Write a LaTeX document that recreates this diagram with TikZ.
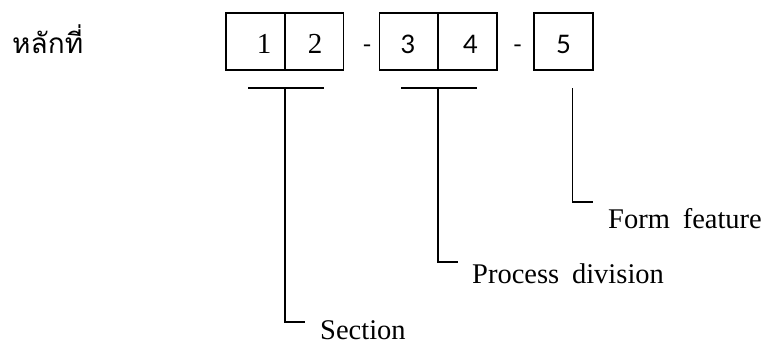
\documentclass[tikz,border=0pt]{standalone}
\usepackage{fontspec}
\setmainfont{Liberation Serif}
\newfontfamily\thaifont[Script=Thai]{Loma}
\newfontfamily\digitsans{Lato}
\begin{document}
\begin{tikzpicture}[x=1pt,y=1pt,
  cell/.style={draw, line width=1.5pt, minimum width=59pt, minimum height=57pt, inner sep=0pt},
  rule/.style={line width=1.5pt},
  lbl/.style={anchor=base west, inner sep=0pt, font=\fontsize{28.5}{32}\selectfont},
  dig/.style={inner sep=0pt, anchor=base},
  sep/.style={inner sep=0pt, anchor=base, font=\fontsize{24}{28}\selectfont},
]
\useasboundingbox (0,0) rectangle (768,-345);

% digit position caption
\node[anchor=base west, inner sep=0pt, font=\thaifont\fontsize{28}{31}\selectfont] (cap) at (12,-53) {หลักที่};

% code cells
\node[cell] (c1) at (255.5,-41.5) {};
\node[cell] (c2) at (314,-41.5) {};
\node[cell] (c3) at (409,-41.5) {};
\node[cell] (c4) at (467.5,-41.5) {};
\node[cell] (c5) at (563.5,-41.5) {};

% digits
\node[dig, font=\fontsize{29}{31}\selectfont] (d1) at (264,-53.5) {1};
\node[dig, font=\fontsize{29}{31}\selectfont] (d2) at (315,-53.5) {2};
\node[dig, font=\digitsans\fontsize{25.5}{28}\selectfont] (d3) at (408,-53) {3};
\node[dig, font=\digitsans\fontsize{25.5}{28}\selectfont] (d4) at (470.5,-53) {4};
\node[dig, font=\digitsans\fontsize{25.5}{28}\selectfont] (d5) at (563.5,-53) {5};

% separators
\node[sep] (h1) at (367,-52) {-};
\node[sep] (h2) at (517.5,-52) {-};

% group bars
\coordinate (b1l) at (248,-88);
\coordinate (b1r) at (324,-88);
\coordinate (b1) at (285,-88);
\coordinate (b2l) at (401,-88);
\coordinate (b2r) at (477,-88);
\coordinate (b2) at (438,-88);
\coordinate (b3) at (572.5,-88);
\draw[rule] (b1l) -- (b1r);
\draw[rule] (b2l) -- (b2r);

% labels
\node[lbl] (sec) at (320,-339.5) {Section};
\node[lbl] (proc) at (472,-283) {Process\hspace{0.45em}division};
\node[lbl] (form) at (608,-228) {Form\hspace{0.45em}feature};

% leader ends
\coordinate (e1) at (305,-322);
\coordinate (e2) at (458,-262);
\coordinate (e3) at (593,-202);

% leaders
\draw[rule] (b1) |- (e1);
\draw[rule] (b2) |- (e2);
\draw[rule] (b3) |- (e3);
\end{tikzpicture}
\end{document}
